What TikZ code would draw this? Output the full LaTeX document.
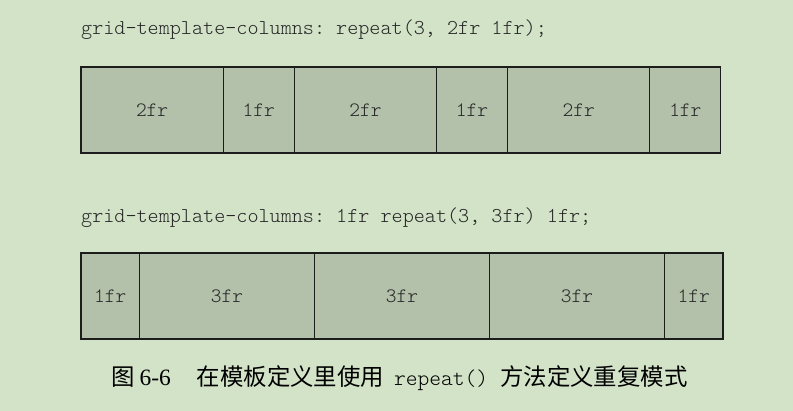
\documentclass[tikz,border=0pt]{standalone}
\usepackage{fontspec}
\setmainfont{Liberation Serif}
\setmonofont{Latin Modern Mono Light}
\newfontfamily\cjk{Noto Sans CJK SC}
\usetikzlibrary{positioning}
\definecolor{pagebg}{HTML}{D3E3C8}
\definecolor{cellfill}{HTML}{B3C0AA}
\definecolor{celldraw}{HTML}{1C1C1C}
\newcommand{\Uone}{71.1bp}
\newcommand{\Utwo}{58.36bp}
\tikzstyle{cell} = [rectangle, fill=cellfill, draw=celldraw, line width=1.15pt, inner sep=0pt, outer sep=0pt, minimum height=86bp, font=\ttfamily\fontsize{20.5}{20.5}\selectfont, text=black!85]
\tikzstyle{code} = [inner sep=0pt, anchor=base west, font=\ttfamily\fontsize{21.2}{21.2}\selectfont, text=black!85]

\begin{document}
\begin{tikzpicture}
\fill[pagebg] (0,0) rectangle (793bp,411bp);
\useasboundingbox (0,0) rectangle (793bp,411bp);

% Code lines
\node[code] (line1) at (81bp,376bp) {grid-template-columns: repeat(3, 2fr 1fr);};
\node[code] (line2) at (81bp,188bp) {grid-template-columns: 1fr repeat(3, 3fr) 1fr;};

% First track list
\node[cell, anchor=west, minimum width=2*\Uone] (a1) at (81bp,301bp) {2fr};
\node[cell, right = 0pt of a1, minimum width=\Uone]   (a2) {1fr};
\node[cell, right = 0pt of a2, minimum width=2*\Uone] (a3) {2fr};
\node[cell, right = 0pt of a3, minimum width=\Uone]   (a4) {1fr};
\node[cell, right = 0pt of a4, minimum width=2*\Uone] (a5) {2fr};
\node[cell, right = 0pt of a5, minimum width=\Uone]   (a6) {1fr};

% Second track list
\node[cell, anchor=west, minimum width=\Utwo] (b1) at (81bp,115bp) {1fr};
\node[cell, right = 0pt of b1, minimum width=3*\Utwo] (b2) {3fr};
\node[cell, right = 0pt of b2, minimum width=3*\Utwo] (b3) {3fr};
\node[cell, right = 0pt of b3, minimum width=3*\Utwo] (b4) {3fr};
\node[cell, right = 0pt of b4, minimum width=\Utwo]   (b5) {1fr};

% Caption
\node[inner sep=0pt, anchor=base west, font=\fontsize{23.5}{23.5}\selectfont] (cap) at (111bp,26bp)
  {{\cjk 图}\hspace{5bp}6-6\hspace{26bp}{\cjk 在模板定义里使用}\hspace{10bp}{\ttfamily\fontsize{22.5}{22.5}\selectfont repeat()}\hspace{12bp}{\cjk 方法定义重复模式}};
\end{tikzpicture}
\end{document}
